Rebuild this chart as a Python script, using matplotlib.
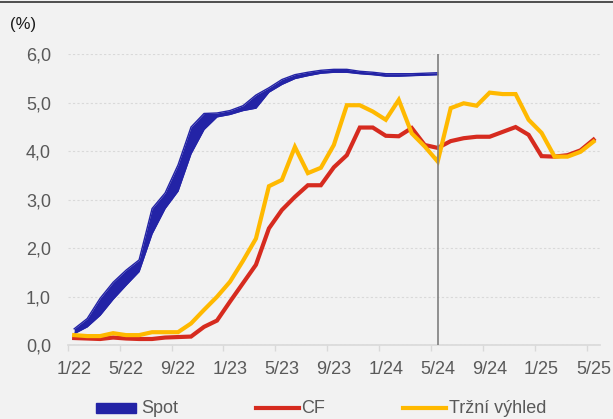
import matplotlib
matplotlib.use("Agg")
import matplotlib.pyplot as plt
from matplotlib.lines import Line2D
from matplotlib.patches import Rectangle
import numpy as np

plt.rcParams['font.family'] = ['Liberation Sans', 'DejaVu Sans']

# Monthly categories 1/22 .. 5/25
months = [f"{m}/{y}" for y in range(22, 26) for m in range(1, 13)][:41]
tick_labels = ["1/22", "5/22", "9/22", "1/23", "5/23", "9/23",
               "1/24", "5/24", "9/24", "1/25", "5/25"]

# Spot range (lower / upper bound), 1/22 .. 5/24
spot_low = [0.24, 0.38, 0.62, 0.95, 1.24, 1.52, 2.30, 2.82, 3.18, 3.95,
            4.45, 4.71, 4.76, 4.84, 4.89, 5.22, 5.38, 5.50, 5.56, 5.61,
            5.63, 5.63, 5.60, 5.58, 5.55, 5.55, 5.56, 5.57, 5.58]
spot_high = [0.34, 0.55, 0.97, 1.30, 1.55, 1.76, 2.82, 3.14, 3.72, 4.50,
             4.78, 4.79, 4.84, 4.94, 5.16, 5.31, 5.48, 5.58, 5.63, 5.67,
             5.69, 5.69, 5.65, 5.63, 5.60, 5.60, 5.60, 5.61, 5.62]

# CF forecast
cf = [0.15, 0.14, 0.13, 0.16, 0.14, 0.13, 0.13, 0.16, 0.17, 0.18,
      0.38, 0.51, 0.90, 1.28, 1.66, 2.41, 2.79, 3.06, 3.30, 3.30,
      3.67, 3.92, 4.49, 4.49, 4.32, 4.31, 4.48, 4.13, 4.07, 4.21,
      4.27, 4.30, 4.30, 4.40, 4.50, 4.34, 3.90, 3.89, 3.92, 4.02, 4.24]

# Market outlook
trh = [0.21, 0.19, 0.19, 0.25, 0.21, 0.21, 0.27, 0.27, 0.27, 0.45,
       0.73, 1.00, 1.31, 1.74, 2.20, 3.28, 3.41, 4.09, 3.55, 3.66,
       4.13, 4.95, 4.95, 4.82, 4.65, 5.06, 4.37, 4.10, 3.79, 4.89,
       4.99, 4.94, 5.21, 5.18, 5.18, 4.65, 4.38, 3.89, 3.89, 3.99, 4.20]

split_month = "5/24"

BLUE = "#2323A6"
RED = "#D62B1F"
YELLOW = "#FFB900"
BG = "#F2F2F2"
TXT = "#595959"
FS = 13

fig = plt.figure(figsize=(6.13, 4.19), dpi=100, facecolor=BG)
ax = fig.add_axes([0.1104, 0.1759, 0.8684, 0.6945], facecolor=BG)

x_all = np.arange(len(months))
x_spot = np.arange(len(spot_low))

ax.fill_between(x_spot, spot_low, spot_high, color=BLUE, linewidth=0, zorder=3)
ax.plot(x_spot, spot_low, color=BLUE, lw=1.0, zorder=3)
ax.plot(x_spot, spot_high, color=BLUE, lw=1.0, zorder=3)
ax.plot(x_all, cf, color=RED, lw=3.0, solid_joinstyle="miter", zorder=4)
ax.plot(x_all, trh, color=YELLOW, lw=3.0, solid_joinstyle="miter", zorder=5)

ax.axvline(months.index(split_month), color="#7F7F7F", lw=1.2, zorder=6)

ax.set_xlim(-0.5, len(months) - 0.5)
ax.set_ylim(0, 6)

ax.set_yticks(np.arange(0, 7, 1))
ax.set_yticklabels([f"{v:.1f}".replace(".", ",") for v in np.arange(0, 7, 1)])
ax.tick_params(axis="y", length=0, pad=12, labelsize=FS, labelcolor=TXT)

ax.set_xticks([months.index(t) for t in tick_labels])
ax.set_xticklabels(tick_labels)
ax.tick_params(axis="x", which="major", length=0, pad=11, labelsize=FS,
               labelcolor=TXT)
ax.set_xticks(np.arange(-0.5, len(months), 4), minor=True)
ax.tick_params(axis="x", which="minor", length=4, width=1, color="#D9D9D9")

ax.yaxis.grid(True, linestyle=(0, (2, 2)), color="#D9D9D9", lw=0.8)
ax.set_axisbelow(True)
for side in ("top", "right", "left"):
    ax.spines[side].set_visible(False)
ax.spines["bottom"].set_color("#D9D9D9")
ax.spines["bottom"].set_linewidth(1.2)

# Frame line at the top and unit label
fig.add_artist(Line2D([0, 1], [0.995, 0.995], color="#333333", lw=1.2,
                      transform=fig.transFigure))
fig.text(10 / 613, 1 - 25 / 419, "(%)", fontsize=12, color="#1A1A1A",
         va="center", ha="left")

# Legend row
W, H = 613, 419
ly = 1 - 408 / H
fig.add_artist(Rectangle((96 / W, ly - 5 / H), 40 / W, 10 / H, color=BLUE,
                         transform=fig.transFigure))
fig.text(141 / W, ly, "Spot", fontsize=FS, color=TXT, va="center")
fig.add_artist(Line2D([256 / W, 299 / W], [ly, ly], color=RED, lw=3.0,
                      transform=fig.transFigure))
fig.text(301 / W, ly, "CF", fontsize=FS, color=TXT, va="center")
fig.add_artist(Line2D([403 / W, 446 / W], [ly, ly], color=YELLOW, lw=3.0,
                      transform=fig.transFigure))
fig.text(449 / W, ly, "Tržní výhled", fontsize=FS, color=TXT, va="center")

fig.savefig("out.png", dpi=100, facecolor=BG)
